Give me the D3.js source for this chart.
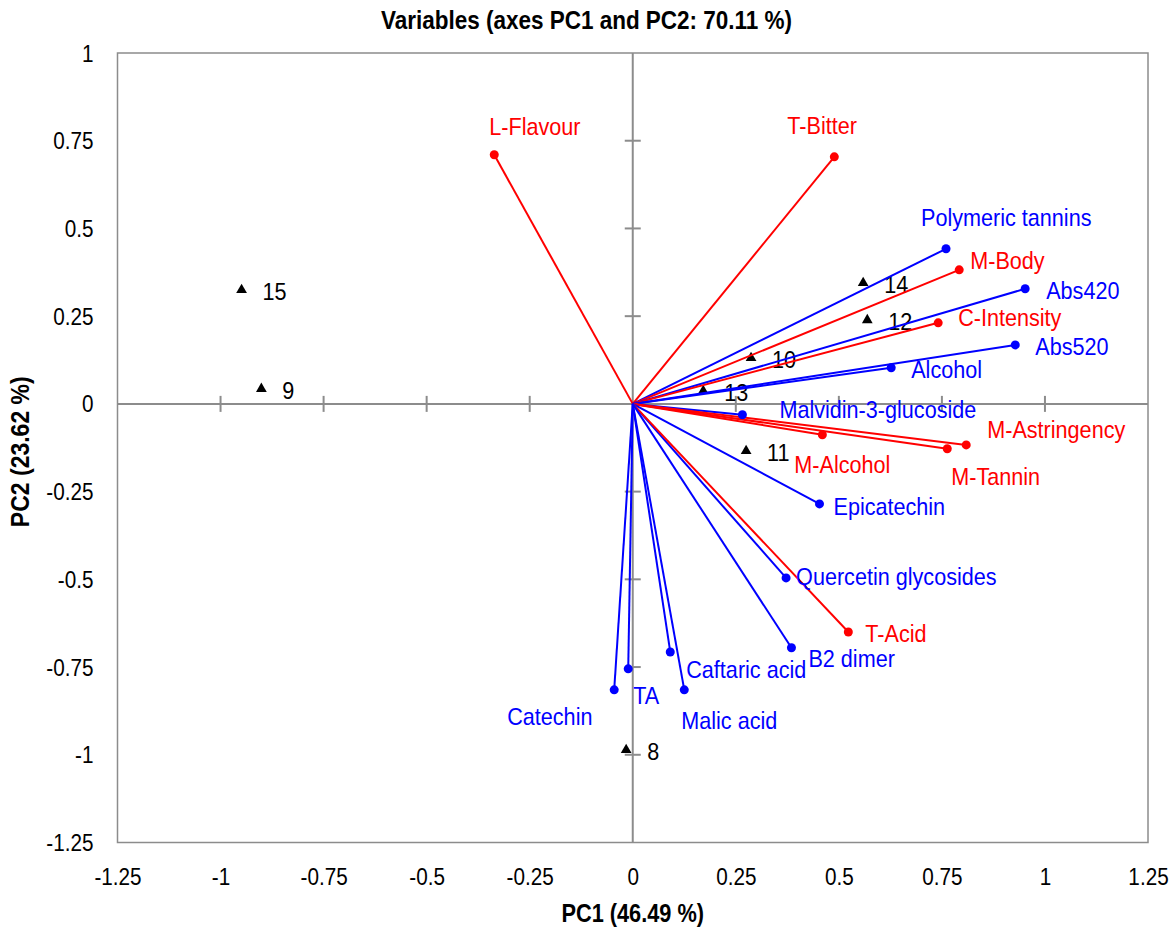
<!DOCTYPE html>
<html>
<head>
<meta charset="utf-8">
<script src="https://cdn.jsdelivr.net/npm/d3@7"></script>
<style>
  body { margin: 0; background: #fff; }
  svg text { font-family: "Liberation Sans", Arial, sans-serif; }
</style>
</head>
<body>
<svg id="chart" width="1173" height="929"></svg>
<script>
// Variable loadings (PC1, PC2)
const varNames = ["L-Flavour", "T-Bitter", "Polymeric tannins", "M-Body", "Abs420", "C-Intensity",
    "Abs520", "Alcohol", "Malvidin-3-glucoside", "M-Alcohol", "M-Astringency", "M-Tannin",
    "Epicatechin", "Quercetin glycosides", "T-Acid", "B2 dimer", "Caftaric acid", "Malic acid",
    "TA", "Catechin"];
const varPC1 = [-0.336, 0.489, 0.760, 0.792, 0.952, 0.741, 0.928, 0.627, 0.266, 0.460, 0.809, 0.763,
    0.453, 0.372, 0.523, 0.385, 0.091, 0.125, -0.011, -0.045];
const varPC2 = [0.710, 0.704, 0.442, 0.382, 0.328, 0.231, 0.168, 0.103, -0.031, -0.088, -0.117, -0.128,
    -0.285, -0.496, -0.650, -0.695, -0.707, -0.815, -0.755, -0.815];
// sensory = red, chemical = blue
const varGroup = ["sensory", "sensory", "chemical", "sensory", "chemical", "sensory",
    "chemical", "chemical", "chemical", "sensory", "sensory", "sensory",
    "chemical", "chemical", "sensory", "chemical", "chemical", "chemical",
    "chemical", "chemical"];

// Observations (wines)
const obsNames = ["15", "9", "14", "12", "10", "13", "11", "8"];
const obsPC1 = [-0.949, -0.901, 0.559, 0.569, 0.287, 0.171, 0.275, -0.016];
const obsPC2 = [0.325, 0.043, 0.345, 0.239, 0.131, 0.037, -0.134, -0.986];

const ticks = [-1.25, -1, -0.75, -0.5, -0.25, 0, 0.25, 0.5, 0.75, 1, 1.25];

// label placement (pixel offsets from the point to the text start / middle)
const labelOffset = {
    "L-Flavour": [-5, -28], "T-Bitter": [-47, -31], "Polymeric tannins": [-25, -31],
    "M-Body": [11, -9], "Abs420": [21, 2], "C-Intensity": [20, -5], "Abs520": [20, 2],
    "Alcohol": [20, 2], "Malvidin-3-glucoside": [37, -5], "M-Alcohol": [-28, 30],
    "M-Astringency": [21, -15], "M-Tannin": [4, 28], "Epicatechin": [14, 3],
    "Quercetin glycosides": [10, -1], "T-Acid": [17, 2], "B2 dimer": [17, 11],
    "Caftaric acid": [16, 18], "Malic acid": [-3, 31], "TA": [5, 27], "Catechin": [-107, 27]
};

const colors = { sensory: "#ff0000", chemical: "#0000ff" };
const gray = "#8c8c8c";
const squeeze = 0.9; // the text in the original is a bit narrow

const svg = d3.select("#chart");
const plotLeft = 117.5, plotRight = 1148, plotTop = 53, plotBottom = 842.5;

const x = d3.scaleLinear().domain([-1.25, 1.25]).range([plotLeft, plotRight]);
const y = d3.scaleLinear().domain([-1.25, 1]).range([plotBottom, plotTop]);

function placeText(sel, px, py, k) {
    return sel.attr("transform", (d, i) => {
        const tx = typeof px === "function" ? px(d, i) : px;
        const ty = typeof py === "function" ? py(d, i) : py;
        return `translate(${tx},${ty}) scale(${k},1)`;
    });
}

// Title
placeText(svg.append("text"), 586.5, 29, 0.9)
    .attr("text-anchor", "middle")
    .style("font-size", "25px").style("font-weight", "bold")
    .text("Variables (axes PC1 and PC2: 70.11 %)");

// Frame
svg.append("rect")
    .attr("x", plotLeft).attr("y", plotTop)
    .attr("width", plotRight - plotLeft).attr("height", plotBottom - plotTop)
    .attr("fill", "none").attr("stroke", gray).attr("stroke-width", 1.5);

// Tick labels, outside the frame
const fmt = d => String(d);
const xAxis = d3.axisBottom(x).tickValues(ticks).tickSize(0).tickPadding(0).tickFormat(fmt);
svg.append("g")
    .attr("transform", `translate(0,${plotBottom + 42.5})`)
    .call(xAxis)
    .call(g => g.select(".domain").remove())
    .selectAll("text").attr("dy", 0).attr("transform", `scale(${squeeze},1)`)
    .style("font-size", "23px").attr("fill", "#000");

const yAxis = d3.axisLeft(y).tickValues(ticks.filter(d => d <= 1)).tickSize(0).tickPadding(0).tickFormat(fmt);
svg.append("g")
    .attr("transform", `translate(${plotLeft - 24},0)`)
    .call(yAxis)
    .call(g => g.select(".domain").remove())
    .selectAll("text").attr("dy", "0.35em").attr("transform", `scale(${squeeze},1)`)
    .style("font-size", "23px").attr("fill", "#000");

// Zero lines with cross ticks
const zero = svg.append("g").attr("stroke", gray).attr("stroke-width", 2);
zero.append("line").attr("x1", plotLeft).attr("x2", plotRight).attr("y1", y(0)).attr("y2", y(0));
zero.append("line").attr("x1", x(0)).attr("x2", x(0)).attr("y1", plotTop).attr("y2", plotBottom);
zero.selectAll(".xt").data(ticks.filter(d => d > -1.25 && d < 1.25 && d !== 0)).enter()
    .append("line").attr("x1", d => x(d)).attr("x2", d => x(d))
    .attr("y1", y(0) - 8).attr("y2", y(0) + 8);
zero.selectAll(".yt").data(ticks.filter(d => d > -1.25 && d < 1 && d !== 0)).enter()
    .append("line").attr("y1", d => y(d)).attr("y2", d => y(d))
    .attr("x1", x(0) - 8).attr("x2", x(0) + 8);

// Axis titles
placeText(svg.append("text"), (plotLeft + plotRight) / 2, 922, 0.87)
    .attr("text-anchor", "middle")
    .style("font-size", "25px").style("font-weight", "bold")
    .text("PC1 (46.49 %)");
svg.append("text")
    .attr("transform", `translate(29,${(plotTop + plotBottom) / 2 + 4}) rotate(-90) scale(0.92,1)`)
    .attr("text-anchor", "middle")
    .style("font-size", "25px").style("font-weight", "bold")
    .text("PC2 (23.62 %)");

const vars = varNames.map((name, i) => ({ name, pc1: varPC1[i], pc2: varPC2[i], group: varGroup[i] }));
const obs = obsNames.map((name, i) => ({ name, pc1: obsPC1[i], pc2: obsPC2[i] }));

// Observations
const tri = d3.symbol().type(d3.symbolTriangle).size(50);
svg.append("g").selectAll("path").data(obs).enter()
    .append("path")
    .attr("d", tri())
    .attr("transform", d => `translate(${x(d.pc1)},${y(d.pc2)})`)
    .attr("fill", "#000");
placeText(svg.append("g").selectAll("text").data(obs).enter().append("text"),
        d => x(d.pc1) + 21, d => y(d.pc2) + 2, squeeze)
    .attr("dy", "0.35em")
    .style("font-size", "24px")
    .text(d => d.name);

// Variable vectors
const vg = svg.append("g");
vg.selectAll("line").data(vars).enter()
    .append("line")
    .attr("x1", x(0)).attr("y1", y(0))
    .attr("x2", d => x(d.pc1)).attr("y2", d => y(d.pc2))
    .attr("stroke", d => colors[d.group]).attr("stroke-width", 2);
vg.selectAll("circle").data(vars).enter()
    .append("circle")
    .attr("cx", d => x(d.pc1)).attr("cy", d => y(d.pc2)).attr("r", 4.5)
    .attr("fill", d => colors[d.group]);
placeText(vg.selectAll("text").data(vars).enter().append("text"),
        d => x(d.pc1) + labelOffset[d.name][0], d => y(d.pc2) + labelOffset[d.name][1], squeeze)
    .attr("dy", "0.35em")
    .style("font-size", "24px")
    .attr("fill", d => colors[d.group])
    .text(d => d.name);
</script>
</body>
</html>
